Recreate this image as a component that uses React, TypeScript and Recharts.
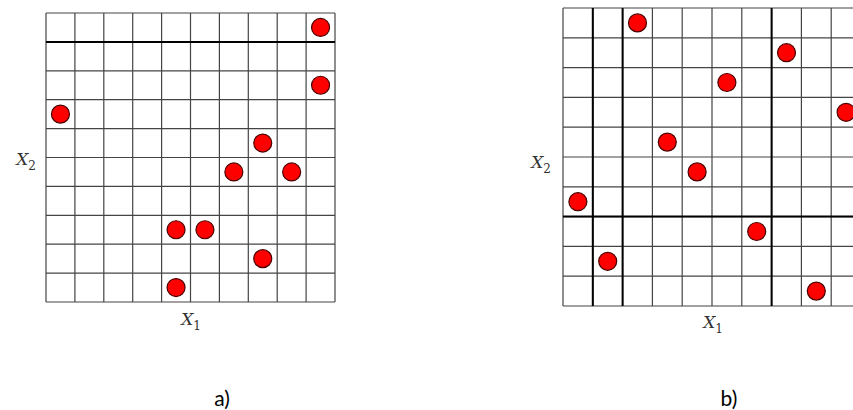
import React from 'react';
import { ScatterChart, Scatter, XAxis, YAxis, CartesianGrid, ReferenceLine } from 'recharts';

// 10x10 grid, cell centres at .5
const gridTicks = [0, 1, 2, 3, 4, 5, 6, 7, 8, 9, 10];

// design a)
const aX1 = [9.5, 9.5, 0.5, 7.5, 6.5, 8.5, 4.5, 5.5, 7.5, 4.5];
const aX2 = [9.5, 7.5, 6.5, 5.5, 4.5, 4.5, 2.5, 2.5, 1.5, 0.5];
const aSplitsX: number[] = [];
const aSplitsY = [9];

// design b)
const bX1 = [2.5, 7.5, 5.5, 9.5, 3.5, 4.5, 0.5, 6.5, 1.5, 8.5];
const bX2 = [9.5, 8.5, 7.5, 6.5, 5.5, 4.5, 3.5, 2.5, 1.5, 0.5];
const bSplitsX = [1, 2, 7];
const bSplitsY = [3];

const toPoints = (xs: number[], ys: number[]) => xs.map((x, i) => ({ x1: x, x2: ys[i] }));

const Dot = (props: any) => (
  <circle cx={props.cx} cy={props.cy} r={9} fill="#ff0000" stroke="#4a0000" strokeWidth={1.2} />
);

interface PanelProps {
  xs: number[];
  ys: number[];
  splitsX: number[];
  splitsY: number[];
  left: number;
  top: number;
  size: number;
}

const Panel: React.FC<PanelProps> = ({ xs, ys, splitsX, splitsY, left, top, size }) => {
  const m = 5;
  return (
    <div style={{ position: 'absolute', left: left - m, top: top - m }}>
      <ScatterChart width={size + 2 * m} height={size + 2 * m} margin={{ top: m, right: m, bottom: m, left: m }}>
        <CartesianGrid stroke="#444" strokeWidth={1.2} />
        <XAxis type="number" dataKey="x1" domain={[0, 10]} ticks={gridTicks} hide />
        <YAxis type="number" dataKey="x2" domain={[0, 10]} ticks={gridTicks} hide />
        {splitsX.map((v) => (
          <ReferenceLine key={`sx${v}`} x={v} stroke="#000" strokeWidth={2} />
        ))}
        {splitsY.map((v) => (
          <ReferenceLine key={`sy${v}`} y={v} stroke="#000" strokeWidth={2} />
        ))}
        <Scatter data={toPoints(xs, ys)} shape={Dot} isAnimationActive={false} />
      </ScatterChart>
    </div>
  );
};

const mathLabel: React.CSSProperties = {
  position: 'absolute',
  fontFamily: '"DejaVu Serif", serif',
  fontStyle: 'italic',
  fontSize: 17,
  color: '#333',
  transform: 'translate(-50%, -50%)',
  whiteSpace: 'nowrap',
};

const caption: React.CSSProperties = {
  position: 'absolute',
  fontFamily: 'Lato, "Liberation Sans", sans-serif',
  fontSize: 21,
  color: '#000',
  transform: 'translate(-50%, -50%)',
};

const Var = ({ n }: { n: number }) => (
  <span>
    X<sub style={{ fontStyle: 'normal', fontSize: 12 }}>{n}</sub>
  </span>
);

export default function App() {
  return (
    <div
      style={{
        position: 'absolute',
        left: 0,
        top: 0,
        width: 853,
        height: 410,
        overflow: 'hidden',
        background: '#fff',
      }}
    >
      <Panel xs={aX1} ys={aX2} splitsX={aSplitsX} splitsY={aSplitsY} left={46} top={13} size={289} />
      <Panel xs={bX1} ys={bX2} splitsX={bSplitsX} splitsY={bSplitsY} left={563} top={8} size={298} />

      <div style={{ ...mathLabel, left: 26, top: 161 }}><Var n={2} /></div>
      <div style={{ ...mathLabel, left: 191, top: 321 }}><Var n={1} /></div>
      <div style={{ ...mathLabel, left: 541, top: 164 }}><Var n={2} /></div>
      <div style={{ ...mathLabel, left: 713, top: 324 }}><Var n={1} /></div>

      <div style={{ ...caption, left: 222, top: 397 }}>a)</div>
      <div style={{ ...caption, left: 729, top: 397 }}>b)</div>
    </div>
  );
}
